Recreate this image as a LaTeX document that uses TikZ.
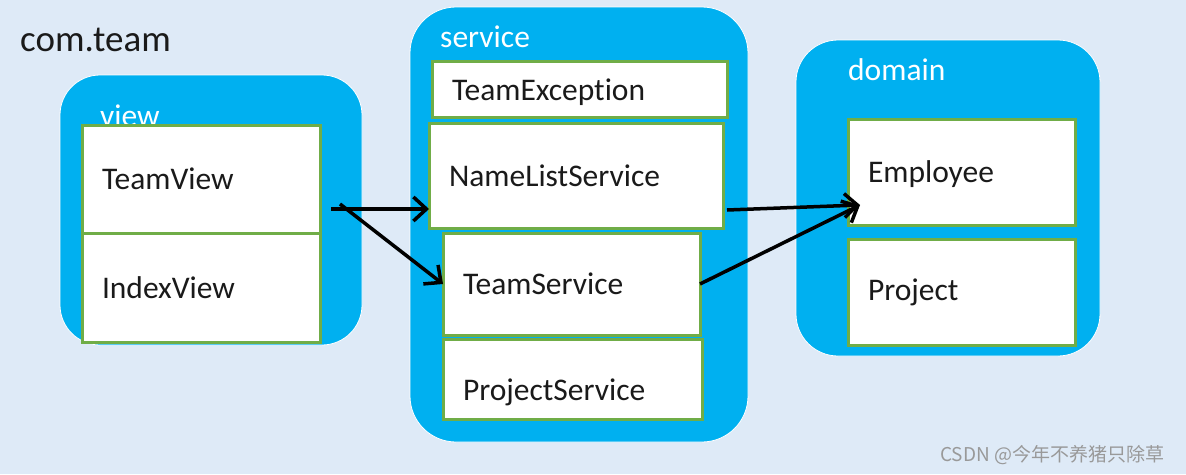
\documentclass[tikz,border=0pt]{standalone}
\usepackage{fontspec}
\setmainfont{Carlito}[Ligatures=NoCommon]
\newfontfamily\cjk{Noto Sans CJK SC}
\usepackage{xcolor}
\usepackage{tikz}
\usetikzlibrary{arrows.meta}

\definecolor{pagebg}{RGB}{222,234,247}
\definecolor{pkgblue}{RGB}{0,176,240}
\definecolor{boxgreen}{RGB}{112,173,71}
\definecolor{txt}{RGB}{26,26,26}

\begin{document}
\begin{tikzpicture}[x=1pt,y=-1pt,
  pkg/.style={draw=white,line width=0.8pt,fill=pkgblue,outer sep=0pt,anchor=north west},
  pkglabel/.style={anchor=west,text=white,inner sep=0pt,font=\fontsize{31.5}{36}\selectfont},
  cls/.style={draw=boxgreen,line width=3pt,fill=white,outer sep=0pt,anchor=north west,
    inner xsep=20pt,inner ysep=0pt,align=left,text=txt,font=\fontsize{31.5}{36}\selectfont},
  link/.style={line width=3.5pt,-{Straight Barb[length=13pt,width=24pt]}}]
\useasboundingbox[fill=pagebg] (0,0) rectangle (1186,474);
\node[anchor=west,text=txt,inner sep=0pt,font=\fontsize{37}{40}\selectfont] (root) at (20,40) {com.team};
% packages
\node[pkg,rounded corners=40pt,minimum width=302pt,minimum height=270pt] (viewpkg) at (60,75) {};
\node[pkg,rounded corners=46pt,minimum width=338pt,minimum height=435pt] (servicepkg) at (410,7) {};
\node[pkg,rounded corners=42pt,minimum width=304pt,minimum height=316pt] (domainpkg) at (796,40) {};
\node[pkglabel] (viewlabel) at (100,116) {view};
\node[pkglabel] (servicelabel) at (440,37) {service};
\node[pkglabel] (domainlabel) at (848,70) {domain};
% classes
\node[cls,text width=198pt,minimum height=108pt] (teamview) at (82,125) {TeamView};
\node[cls,text width=198pt,minimum height=109pt] (indexview) at (82,233) {IndexView};
\node[cls,text width=255pt,minimum height=56pt,text height=27pt,text depth=5pt] (teamexc) at (432,61) {TeamException};
\node[cls,text width=254pt,minimum height=105pt] (namelist) at (429,123) {NameListService};
\node[cls,text width=217pt,minimum height=102pt] (teamservice) at (443,233) {TeamService};
\node[cls,text width=219pt,minimum height=80pt,text height=49pt,text depth=6pt] (projectservice) at (443,339) {ProjectService};
\node[cls,text width=187pt,minimum height=106pt,text height=24pt,text depth=4pt] (employee) at (848,119) {Employee};
\node[cls,text width=187pt,minimum height=106pt] (project) at (848,239) {Project};
% calls
\coordinate (viewout) at (331,209);
\coordinate (listout) at (727,210);
\coordinate (domainin) at (860,205);
\draw[link] (viewout) -- (namelist.west |- viewout);
\draw[link] ([xshift=9pt,yshift=5pt]viewout) -- (teamservice.west);
\draw[link] (listout) -- (domainin);
\draw[link] (teamservice.east) -- (domainin);
\node[anchor=west,text=black!40,inner sep=0pt,font=\cjk\fontsize{19}{22}\selectfont] (mark) at (940,455) {CSDN @今年不养猪只除草};
\end{tikzpicture}
\end{document}
